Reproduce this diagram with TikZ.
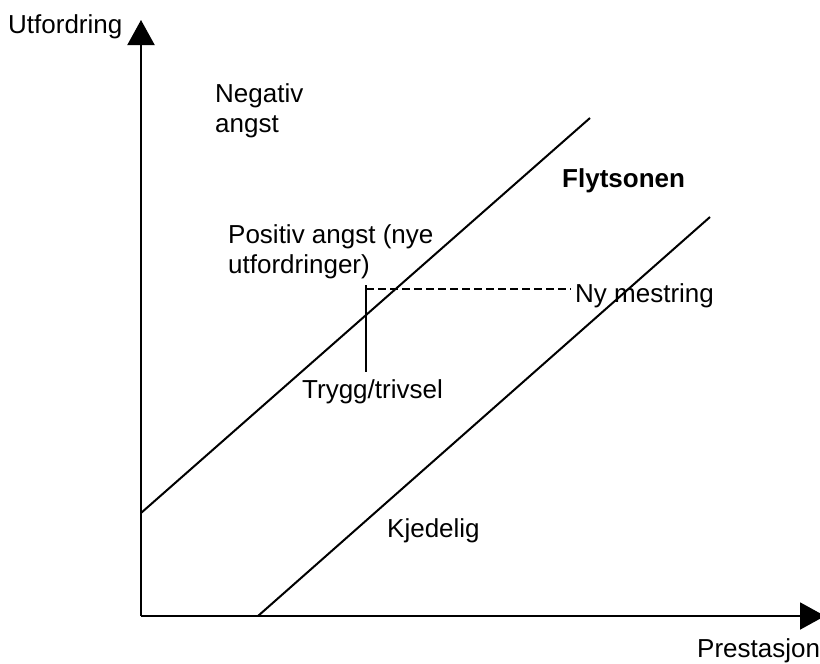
\documentclass[tikz,border=0pt]{standalone}
\usepackage{fontspec}
\setmainfont{Liberation Sans}
\usetikzlibrary{arrows.meta}
\begin{document}
\begin{tikzpicture}[x=1pt,y=-1pt,
  lbl/.style={anchor=base west,inner sep=0pt,font=\fontsize{26}{30}\selectfont},
  axis/.style={line width=2pt,-{Triangle[length=25pt,width=27pt]}},
  zone/.style={line width=2pt},
  thin/.style={line width=1.5pt},
  dashline/.style={line width=1.5pt,dash pattern=on 8pt off 4pt}]
\useasboundingbox (0,0) rectangle (820,664);
% axes
\coordinate (o) at (141,616);
\coordinate (ytip) at (141,20);
\coordinate (xtip) at (825,616);
\draw[axis] (o) -- (ytip);
\draw[axis] (o) -- (xtip);
% zone lines
\coordinate (a1) at (141,513);
\coordinate (a2) at (590,118);
\coordinate (b1) at (258,616);
\coordinate (b2) at (710,217);
\draw[zone] (a1) -- (a2);
\draw[zone] (b1) -- (b2);
% marker lines
\coordinate (v1) at (366,285);
\coordinate (v2) at (366,372);
\coordinate (d1) at (366,289);
\coordinate (d2) at (571,289);
\draw[thin] (v1) -- (v2);
\draw[dashline] (d1) -- (d2);
% labels
\node[lbl] (ut) at (8,33) {Utfordring};
\node[lbl] (neg1) at (215,102) {Negativ};
\node[lbl] (neg2) at (215,132) {angst};
\node[lbl,font=\fontsize{26}{30}\selectfont\bfseries] (fly) at (562,187) {Flytsonen};
\node[lbl] (pos1) at (228,243) {Positiv angst (nye};
\node[lbl] (pos2) at (228,273) {utfordringer)};
\node[lbl] (ny) at (575,302) {Ny mestring};
\node[lbl] (tr) at (302,398) {Trygg/trivsel};
\node[lbl] (kj) at (387,537) {Kjedelig};
\node[lbl] (pr) at (697,657) {Prestasjon};
\end{tikzpicture}
\end{document}
